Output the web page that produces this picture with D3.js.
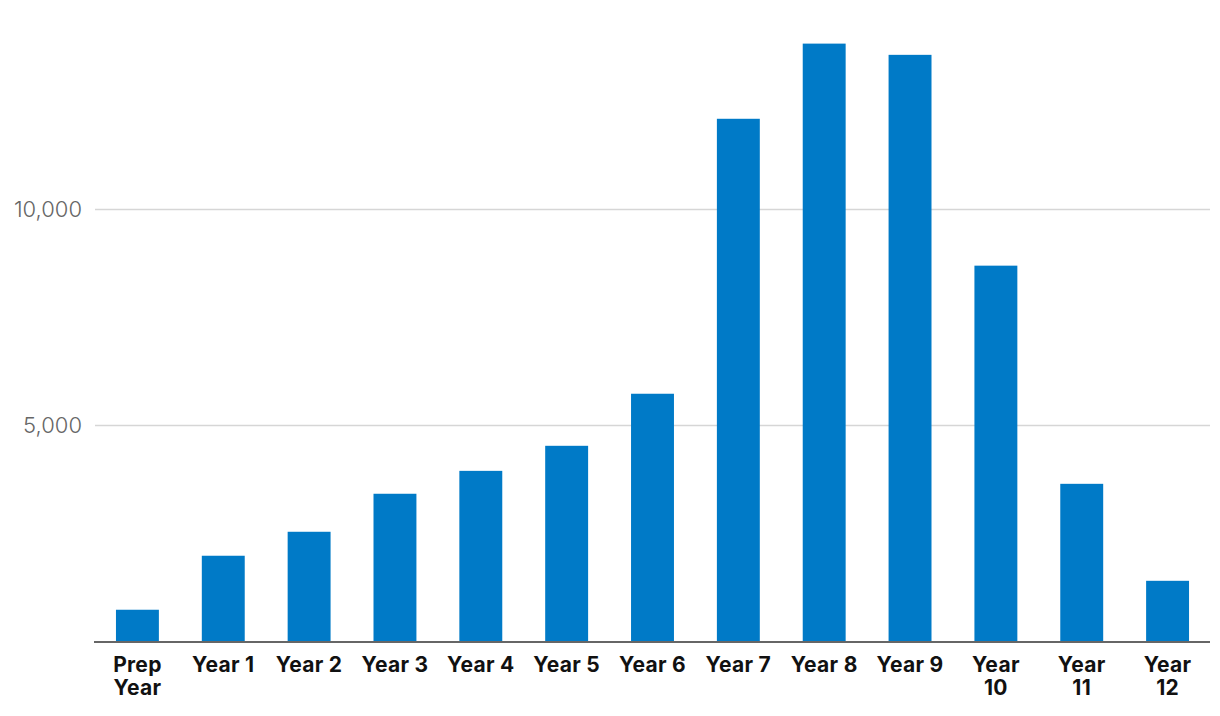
<!DOCTYPE html>
<html><head><meta charset="utf-8">
<script src="https://cdn.jsdelivr.net/npm/d3@7"></script>
<style>body{margin:0;background:#fff}</style>
</head><body>
<svg id="c" width="1220" height="716"></svg>
<script>
const categories = ["Prep Year","Year 1","Year 2","Year 3","Year 4","Year 5","Year 6","Year 7","Year 8","Year 9","Year 10","Year 11","Year 12"];
const values = [735, 1985, 2540, 3420, 3950, 4530, 5735, 12100, 13840, 13580, 8700, 3650, 1405];
const yTicks = [5000, 10000];

const svg = d3.select("#c");
const x = d3.scaleBand().domain(categories).range([94.5, 1210.5]).paddingInner(0.5).paddingOuter(0.25);
const y = d3.scaleLinear().domain([0, 10000]).range([641.5, 209.5]);

// gridlines
svg.append("g").selectAll("line").data(yTicks).join("line")
  .attr("x1", 95).attr("x2", 1210)
  .attr("y1", d => y(d)).attr("y2", d => y(d))
  .attr("stroke", "#d6d6d6").attr("stroke-width", 1.5);

// y tick labels
svg.append("g").selectAll("text").data(yTicks).join("text")
  .attr("x", 82).attr("y", d => y(d)).attr("dy", "0.36em")
  .attr("text-anchor", "end")
  .attr("font-family", "Inter, sans-serif").attr("font-size", 22).attr("font-weight", 300)
  .attr("fill", "#666")
  .text(d => d3.format(",")(d));

// bars
svg.append("g").selectAll("rect").data(values).join("rect")
  .attr("x", (d, i) => x(categories[i]))
  .attr("width", x.bandwidth())
  .attr("y", d => y(d))
  .attr("height", d => y(0) - y(d))
  .attr("fill", "#007ac7");

// baseline
svg.append("line").attr("x1", 94).attr("x2", 1210)
  .attr("y1", y(0) + 0.5).attr("y2", y(0) + 0.5)
  .attr("stroke", "#666").attr("stroke-width", 2);

// category labels
function lines(c) {
  const p = c.split(" ");
  if (c === "Prep Year") return ["Prep", "Year"];
  if (p[1] && p[1].length >= 2) return [p[0], p[1]];
  return [c];
}
const lab = svg.append("g").selectAll("text").data(categories).join("text")
  .attr("x", d => x(d) + x.bandwidth() / 2)
  .attr("y", 672)
  .attr("text-anchor", "middle")
  .attr("font-family", "Inter, sans-serif").attr("font-weight", 700).attr("font-size", 21)
  .attr("letter-spacing", 0.3)
  .attr("fill", "#111");
lab.selectAll("tspan").data(d => lines(d)).join("tspan")
  .attr("x", function() { return d3.select(this.parentNode).attr("x"); })
  .attr("dy", (d, i) => i === 0 ? 0 : 23)
  .text(d => d);
</script>
</body></html>
